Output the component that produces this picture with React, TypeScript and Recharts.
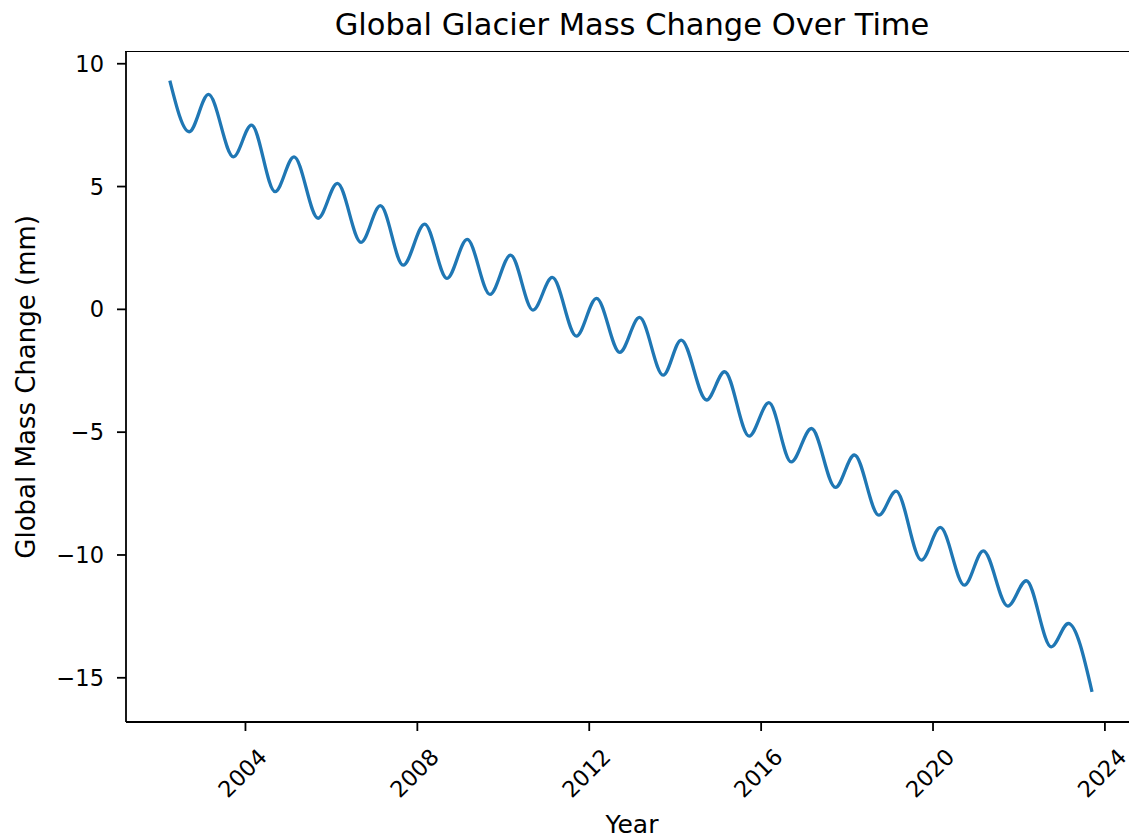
import { LineChart, Line, XAxis, YAxis, Label } from 'recharts';

// peaks / troughs
const years = [
  2002.24, 2002.69, 2003.14, 2003.72, 2004.14, 2004.69, 2005.13, 2005.69,
  2006.14, 2006.69, 2007.14, 2007.67, 2008.17, 2008.69, 2009.16, 2009.69,
  2010.17, 2010.69, 2011.14, 2011.7, 2012.17, 2012.71, 2013.17, 2013.72,
  2014.14, 2014.73, 2015.15, 2015.72, 2016.18, 2016.7, 2017.17, 2017.73,
  2018.17, 2018.74, 2019.14, 2019.73, 2020.17, 2020.73, 2021.17, 2021.74,
  2022.17, 2022.75, 2023.15, 2023.7,
];
const massChange = [
  9.31, 7.23, 8.75, 6.21, 7.5, 4.79, 6.21, 3.71,
  5.13, 2.73, 4.22, 1.8, 3.47, 1.26, 2.85, 0.61,
  2.21, -0.03, 1.3, -1.09, 0.45, -1.75, -0.33, -2.68,
  -1.25, -3.69, -2.54, -5.16, -3.8, -6.21, -4.85, -7.25,
  -5.93, -8.38, -7.4, -10.21, -8.88, -11.23, -9.83, -12.08,
  -11.05, -13.74, -12.79, -15.57,
];
const yearTicks = [2004, 2008, 2012, 2016, 2020, 2024];
const massTicks = [-15, -10, -5, 0, 5, 10];

const data = years.map((year, i) => ({ year, value: massChange[i] }));

const FONT = 'DejaVu Sans';
const tickFont = { fontSize: 22.5, fill: '#000', fontFamily: FONT };

const fmt = (v: number) => (v < 0 ? '\u2212' + Math.abs(v) : String(v));

const YearTick = (props: any) => {
  const { x, y, payload } = props;
  const cx = x - 3;
  const cy = y + 34;
  return (
    <text
      x={cx}
      y={cy}
      transform={`rotate(-45, ${cx}, ${cy})`}
      textAnchor="middle"
      dominantBaseline="central"
      fontSize={22.5}
      fontFamily={FONT}
      fill="#000"
    >
      {payload.value}
    </text>
  );
};

export default function App() {
  return (
    <div
      style={{
        position: 'absolute',
        left: 0,
        top: 0,
        width: 1129,
        height: 836,
        overflow: 'hidden',
        background: '#fff',
        fontFamily: FONT,
      }}
    >
      <div
        style={{
          position: 'absolute',
          left: 0,
          top: 10,
          width: 1264,
          textAlign: 'center',
          fontSize: 30.5,
          lineHeight: '30px',
          color: '#000',
        }}
      >
        Global Glacier Mass Change Over Time
      </div>
      <LineChart
        width={1160}
        height={836}
        data={data}
        margin={{ top: 51.7, right: 22, left: 0, bottom: 0 }}
      >
        <XAxis
          dataKey="year"
          type="number"
          domain={[2001.22, 2024.77]}
          allowDataOverflow
          ticks={yearTicks}
          height={114}
          tickSize={9}
          tickMargin={8}
          tick={<YearTick />}
          tickLine={{ stroke: '#000', strokeWidth: 1.8 }}
          axisLine={{ stroke: '#000', strokeWidth: 1.8 }}
        >
          <Label
            value="Year"
            position="insideBottom"
            offset={3}
            style={{ fontSize: 25, fill: '#000', fontFamily: FONT }}
          />
        </XAxis>
        <YAxis
          type="number"
          domain={[-16.8, 10.49]}
          allowDataOverflow
          ticks={massTicks}
          tickFormatter={fmt}
          width={126}
          tickSize={9}
          tickMargin={13}
          tick={tickFont}
          tickLine={{ stroke: '#000', strokeWidth: 1.8 }}
          axisLine={{ stroke: '#000', strokeWidth: 1.8 }}
        >
          <Label
            value="Global Mass Change (mm)"
            angle={-90}
            position="insideLeft"
            offset={26}
            style={{ fontSize: 26, fill: '#000', fontFamily: FONT, textAnchor: 'middle' }}
          />
        </YAxis>
        <Line
          type="monotone"
          dataKey="value"
          stroke="#1f77b4"
          strokeWidth={3.3}
          dot={false}
          isAnimationActive={false}
        />
      </LineChart>
      {/* top and right spines of the axes box */}
      <div
        style={{
          position: 'absolute',
          left: 125,
          top: 50.8,
          width: 1139 - 125,
          height: 722 - 50.8,
          borderTop: '1.8px solid #000',
          borderRight: '1.8px solid #000',
          boxSizing: 'border-box',
          pointerEvents: 'none',
        }}
      />
    </div>
  );
}
